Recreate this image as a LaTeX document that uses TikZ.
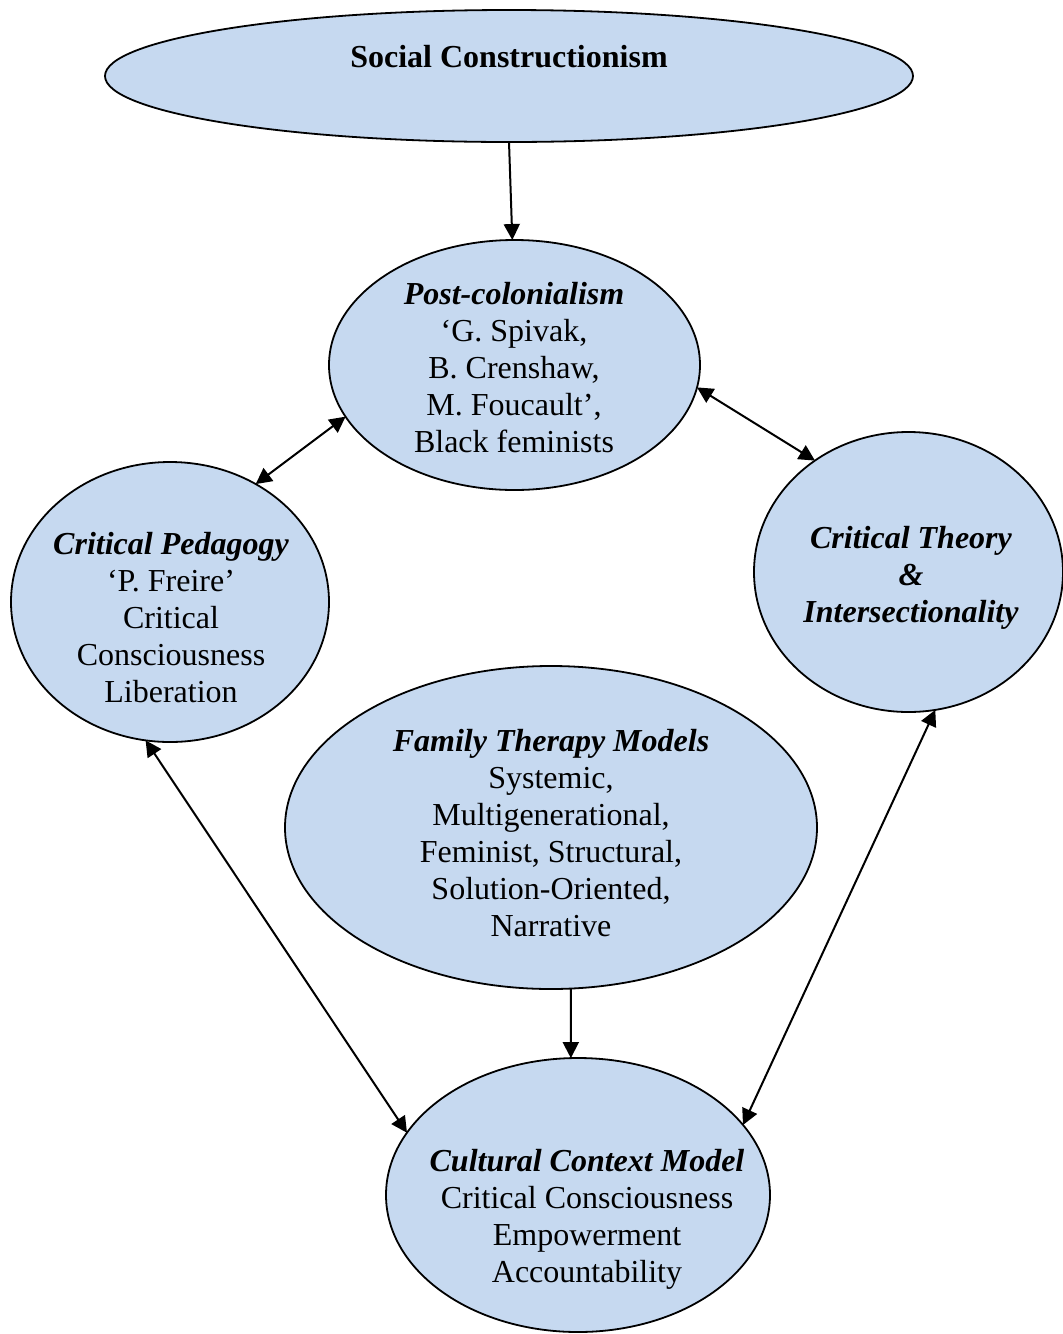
\documentclass[tikz,border=0pt]{standalone}
\usepackage{fontspec}
\setmainfont{Liberation Serif}
\usetikzlibrary{shapes.geometric,arrows.meta}
\definecolor{bubble}{HTML}{C6D9F0}
\tikzset{
  bubble/.style={ellipse, draw=black, line width=1.8pt, fill=bubble,
    inner sep=0pt, outer sep=0pt},
  txt/.style={align=center, font=\fontsize{32}{37}\selectfont},
  link/.style={line width=2pt, -{Triangle[length=16pt,width=16pt]}},
  both/.style={line width=2pt, {Triangle[length=16pt,width=16pt]}-{Triangle[length=16pt,width=16pt]}}
}
\begin{document}
\begin{tikzpicture}[x=1pt,y=1pt]
\useasboundingbox (0,0) rectangle (1063,-1334);
\begin{scope}
\clip (0,0) rectangle (1063,-1334);
% ellipses
\node[bubble, minimum width=808pt, minimum height=132pt] (sc) at (509,-76) {};
\node[bubble, minimum width=371pt, minimum height=250pt] (pc) at (514.5,-365) {};
\node[bubble, minimum width=318pt, minimum height=280pt] (cp) at (170,-602) {};
\node[bubble, minimum width=309pt, minimum height=280pt] (ct) at (908.5,-572) {};
\node[bubble, minimum width=532pt, minimum height=323pt] (ftm) at (551,-827.5) {};
\node[bubble, minimum width=384pt, minimum height=274pt] (ccm) at (578,-1195) {};
\end{scope}

% texts
\node[txt, font=\fontsize{32}{37}\selectfont\bfseries] (tsc) at (509,-57) {Social Constructionism};
\node[txt] (tpc) at (514,-368) {{\bfseries\itshape Post-colonialism}\\‘G. Spivak,\\B. Crenshaw,\\M. Foucault’,\\Black feminists};
\node[txt] (tcp) at (171,-618) {{\bfseries\itshape Critical Pedagogy}\\‘P. Freire’\\Critical\\Consciousness\\Liberation};
\node[txt, font=\fontsize{32}{37}\selectfont\bfseries\itshape] (tct) at (911,-577.5) {Critical Theory\\\&\\Intersectionality};
\node[txt] (tftm) at (551,-833.5) {{\bfseries\itshape Family Therapy Models}\\Systemic,\\Multigenerational,\\Feminist, Structural,\\Solution-Oriented,\\Narrative};
\node[txt] (tccm) at (587,-1219) {{\bfseries\itshape Cultural Context Model}\\Critical Consciousness\\Empowerment\\Accountability};

% connectors
\draw[link] (sc.-90.9) -- (pc.91.1);
\draw[both] (pc.-163.7) -- (cp.54.4);
\draw[both] (pc.-7.1) -- (ct.130.4);
\draw[both] (cp.-100.1) -- (ccm.160.3);
\draw[link] (ftm.-83.6) -- (ccm.93.3);
\draw[both] (ct.-79.3) -- (ccm.23.2);
\end{tikzpicture}
\end{document}
